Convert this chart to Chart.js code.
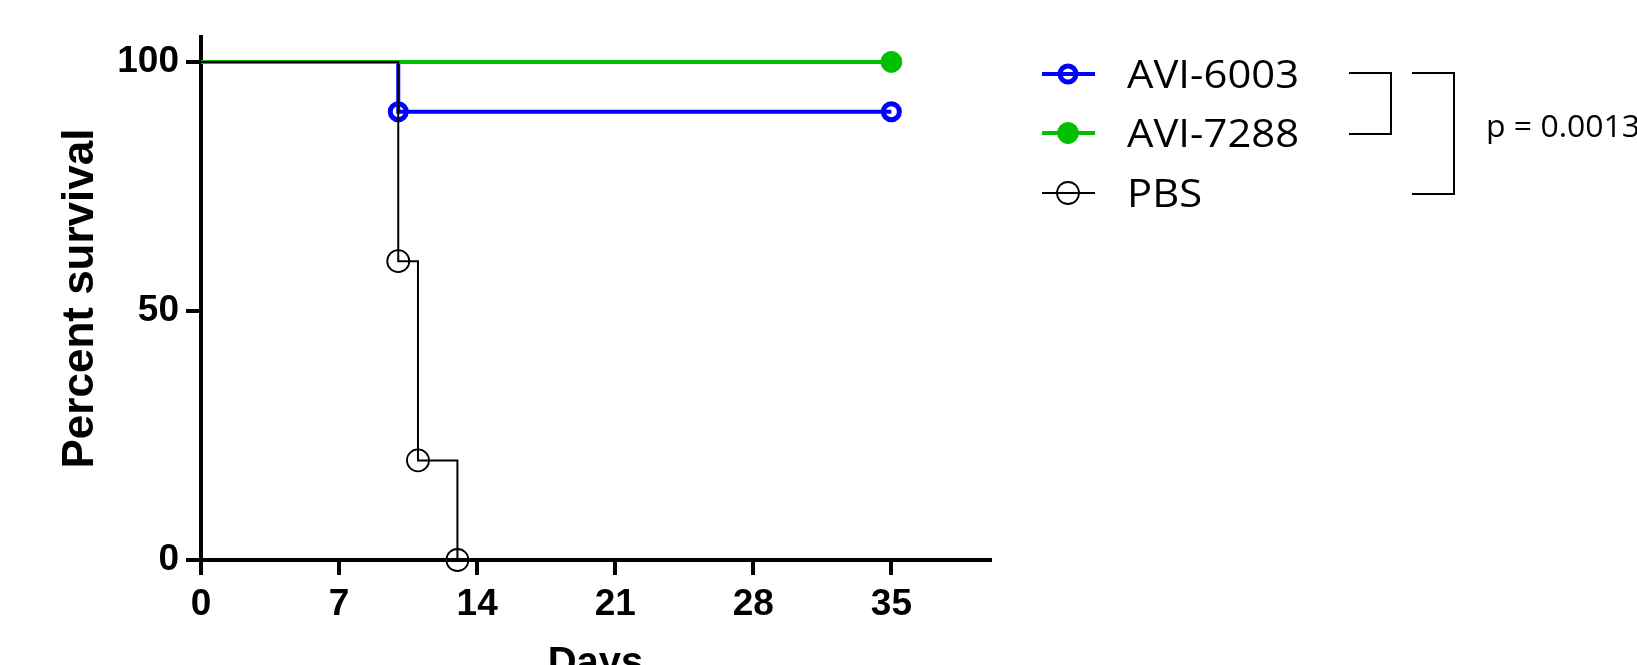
<!DOCTYPE html>
<html>
<head>
<meta charset="utf-8">
<title>Percent survival</title>
<script src="https://cdn.jsdelivr.net/npm/chart.js@4/dist/chart.umd.min.js"></script>
<style>
  html, body { margin: 0; padding: 0; background: #ffffff; }
  canvas { display: block; }
</style>
</head>
<body>
<canvas id="chart" width="1637" height="665"></canvas>
<script>
// Kaplan–Meier survival curves for the three treatment groups
const groupNames = ['AVI-6003', 'AVI-7288', 'PBS'];

const avi6003Days = [0, 10, 35];
const avi6003Survival = [100, 90, 90];
const avi6003Marked = [false, true, true];

const avi7288Days = [0, 35];
const avi7288Survival = [100, 100];
const avi7288Marked = [false, true];

const pbsDays = [0, 10, 11, 13];
const pbsSurvival = [100, 60, 20, 0];
const pbsMarked = [false, true, true, true];

const dayTicks = [0, 7, 14, 21, 28, 35];
const percentTicks = [0, 50, 100];

// log-rank comparisons shown as brackets beside the legend (row indices)
const comparisons = [[0, 1], [0, 2]];
const pValueText = 'p = 0.0013';

// ---- styling ----
const BLUE = '#0000ff';
const GREEN = '#00c000';
const BLACK = '#000000';

const markerStyles = [
  { radius: 8, borderWidth: 5, fill: 'rgba(0,0,0,0)', color: BLUE },
  { radius: 10.5, borderWidth: 1, fill: GREEN, color: GREEN },
  { radius: 11, borderWidth: 1.8, fill: 'rgba(0,0,0,0)', color: BLACK }
];
const lineWidths = [4, 4, 2];
const drawOrder = [3, 2, 1];

function makeSeries(idx, days, survival, marked) {
  const m = markerStyles[idx];
  return {
    label: groupNames[idx],
    data: days.map((d, i) => ({ x: d, y: survival[i] })),
    borderColor: m.color,
    borderWidth: lineWidths[idx],
    stepped: 'before',
    fill: false,
    clip: false,
    order: drawOrder[idx],
    pointRadius: marked.map(v => (v ? m.radius : 0)),
    pointBorderWidth: m.borderWidth,
    pointBorderColor: m.color,
    pointBackgroundColor: m.fill
  };
}

const datasets = [
  makeSeries(0, avi6003Days, avi6003Survival, avi6003Marked),
  makeSeries(1, avi7288Days, avi7288Survival, avi7288Marked),
  makeSeries(2, pbsDays, pbsSurvival, pbsMarked)
];

// legend rows, comparison brackets and p-value drawn beside the plot
const legendLayout = {
  lineX0: 1042, lineX1: 1095, markX: 1068, textX: 1127,
  rowY: [74, 133, 193], baselineOffset: 14,
  font: '38px "Open Sans", "Liberation Sans", sans-serif', textScaleX: 1.1,
  brackets: [[1349, 1391], [1412, 1454]],
  pX: 1486, pBaseline: 137, pFont: '31px "Open Sans", "Liberation Sans", sans-serif', pScaleX: 1.03
};

function drawMarker(ctx, x, y, m) {
  ctx.beginPath();
  ctx.arc(x, y, m.radius, 0, Math.PI * 2);
  ctx.fillStyle = m.fill;
  ctx.fill();
  ctx.lineWidth = m.borderWidth;
  ctx.strokeStyle = m.color;
  ctx.stroke();
}

const sideLegend = {
  id: 'sideLegend',
  afterDraw(chart) {
    const ctx = chart.ctx;
    const L = legendLayout;
    ctx.save();
    chart.data.datasets.forEach((ds, i) => {
      const y = L.rowY[i];
      ctx.beginPath();
      ctx.moveTo(L.lineX0, y);
      ctx.lineTo(L.lineX1, y);
      ctx.lineWidth = ds.borderWidth;
      ctx.strokeStyle = ds.borderColor;
      ctx.stroke();
      drawMarker(ctx, L.markX, y, markerStyles[i]);

      ctx.save();
      ctx.translate(L.textX, y + L.baselineOffset);
      ctx.scale(L.textScaleX, 1);
      ctx.font = L.font;
      ctx.fillStyle = '#000';
      ctx.textBaseline = 'alphabetic';
      ctx.textAlign = 'left';
      ctx.fillText(ds.label, 0, 0);
      ctx.restore();
    });

    ctx.lineWidth = 2;
    ctx.strokeStyle = '#000';
    comparisons.forEach(([a, b], k) => {
      const [x0, x1] = L.brackets[k];
      const ya = L.rowY[a] - 1, yb = L.rowY[b] + 1;
      ctx.beginPath();
      ctx.moveTo(x0, ya);
      ctx.lineTo(x1, ya);
      ctx.lineTo(x1, yb);
      ctx.lineTo(x0, yb);
      ctx.stroke();
    });

    ctx.save();
    ctx.translate(L.pX, L.pBaseline);
    ctx.scale(L.pScaleX, 1);
    ctx.font = L.pFont;
    ctx.fillStyle = '#000';
    ctx.textBaseline = 'alphabetic';
    ctx.fillText(pValueText, 0, 0);
    ctx.restore();
    ctx.restore();
  }
};

const axisFont = { family: '"Liberation Sans", Arial, sans-serif', size: 37, weight: 'bold' };

new Chart(document.getElementById('chart'), {
  type: 'line',
  data: { datasets },
  plugins: [sideLegend],
  options: {
    responsive: false,
    animation: false,
    events: [],
    layout: { padding: { left: 0, top: 37, right: 647, bottom: 0 } },
    plugins: { legend: { display: false }, tooltip: { enabled: false } },
    scales: {
      x: {
        type: 'linear',
        position: 'bottom',
        min: 0,
        max: 40,
        afterBuildTicks: s => { s.ticks = dayTicks.map(v => ({ value: v })); },
        afterFit: s => { s.height = 105; },
        grid: { drawOnChartArea: false, drawTicks: true, tickLength: 15, lineWidth: 4, color: BLACK },
        border: { display: true, width: 4, color: BLACK },
        ticks: { font: axisFont, color: BLACK, padding: 8, maxRotation: 0, autoSkip: false },
        title: {
          display: true, text: 'Days', color: BLACK,
          font: { family: '"Liberation Sans", Arial, sans-serif', size: 40, weight: 'bold' },
          padding: { top: 0, bottom: -23 }
        }
      },
      y: {
        type: 'linear',
        position: 'left',
        min: 0,
        max: 105,
        afterBuildTicks: s => { s.ticks = percentTicks.map(v => ({ value: v })); },
        afterFit: s => { s.width = 201; },
        grid: { drawOnChartArea: false, drawTicks: true, tickLength: 15, lineWidth: 4, color: BLACK },
        border: { display: true, width: 4, color: BLACK },
        ticks: { font: axisFont, color: BLACK, padding: 7, autoSkip: false },
        title: {
          display: true, text: 'Percent survival', color: BLACK,
          font: { family: '"Liberation Sans", Arial, sans-serif', size: 44, weight: 'bold' },
          padding: { top: 54, bottom: 0 }
        }
      }
    }
  }
});
</script>
</body>
</html>
